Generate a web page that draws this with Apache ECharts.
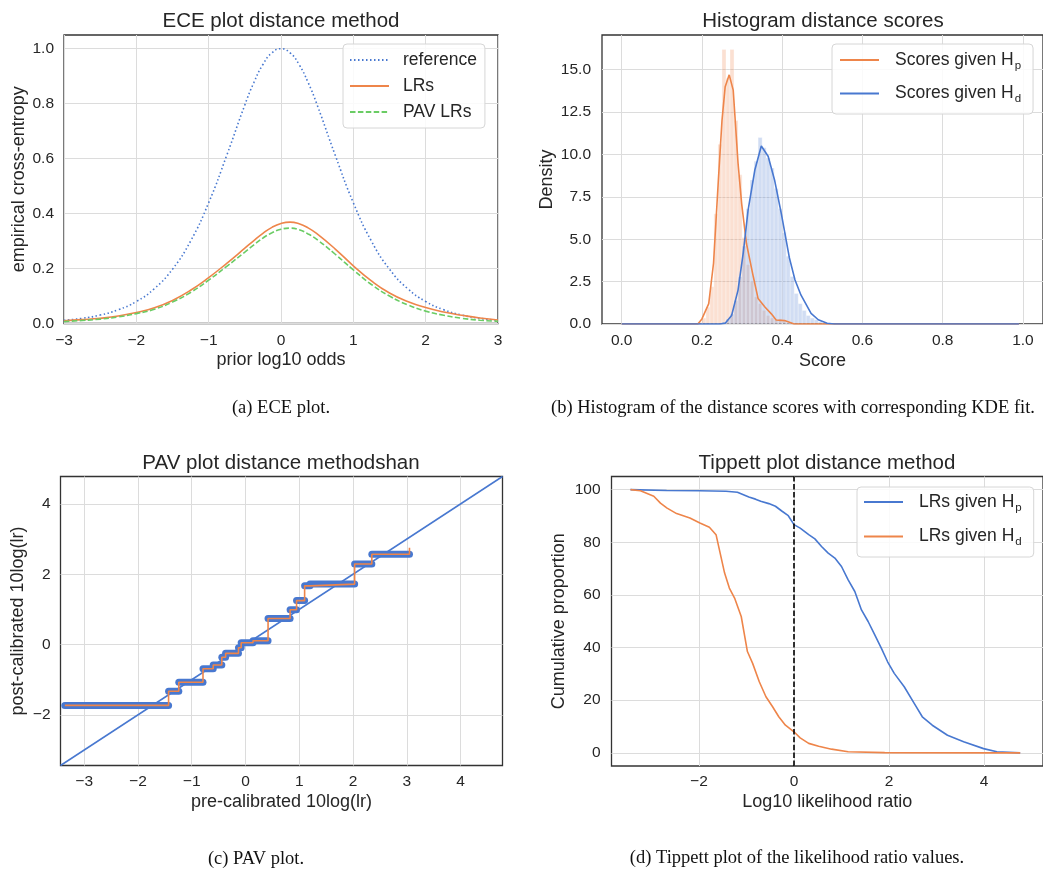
<!DOCTYPE html>
<html>
<head>
<meta charset="utf-8">
<script src="https://cdn.jsdelivr.net/npm/echarts@6/dist/echarts.min.js"></script>
<style>
  html, body { margin: 0; padding: 0; background: #ffffff; }
  #chart { width: 1043px; height: 871px; }
</style>
</head>
<body>
<div id="chart"></div>
<script>
// ---------- (a) ECE curves, sampled along the prior log10 odds ----------
const eceOdds = [-3, -2.75, -2.5, -2.25, -2, -1.75, -1.5, -1.25, -1, -0.75, -0.5, -0.375, -0.25, -0.125, 0,
                 0.125, 0.25, 0.375, 0.5, 0.75, 1, 1.25, 1.5, 1.75, 2, 2.25, 2.5, 2.75, 3];
const eceReference = [0.0114, 0.0188, 0.0307, 0.0499, 0.0801, 0.1270, 0.1977, 0.3000, 0.4395, 0.6121, 0.7955, 0.8771, 0.9426, 0.9853, 1.0,
                      0.9853, 0.9426, 0.8771, 0.7955, 0.6121, 0.4395, 0.3000, 0.1977, 0.1270, 0.0801, 0.0499, 0.0307, 0.0188, 0.0114];
const eceLRs = [0.010, 0.014, 0.019, 0.027, 0.040, 0.057, 0.084, 0.121, 0.167, 0.219, 0.274, 0.302, 0.328, 0.350, 0.364,
                0.369, 0.363, 0.348, 0.326, 0.271, 0.210, 0.155, 0.111, 0.080, 0.058, 0.042, 0.030, 0.020, 0.013];
const ecePAV = [0.007, 0.011, 0.016, 0.024, 0.036, 0.052, 0.078, 0.113, 0.158, 0.208, 0.260, 0.286, 0.311, 0.330, 0.343,
                0.347, 0.341, 0.326, 0.305, 0.252, 0.195, 0.142, 0.100, 0.068, 0.045, 0.030, 0.019, 0.012, 0.008];

// ---------- (b) score histograms (density per bin) and KDE fits ----------
const binWidth = 0.01;
const hpBinCenters = [0.195, 0.205, 0.215, 0.225, 0.235, 0.245, 0.255, 0.265, 0.275, 0.285, 0.295, 0.305,
                      0.315, 0.325, 0.335, 0.345, 0.355, 0.365, 0.375, 0.385, 0.395, 0.405, 0.415];
const hpDensity = [0.1, 0.35, 1.0, 2.2, 6.5, 10.6, 16.2, 14.5, 16.2, 12.0, 8.8, 5.1,
                   3.5, 2.5, 1.6, 1.2, 0.8, 0.5, 0.35, 0.25, 0.3, 0.15, 0.05];
const hdBinCenters = [0.255, 0.265, 0.275, 0.285, 0.295, 0.305, 0.315, 0.325, 0.335, 0.345, 0.355, 0.365, 0.375,
                      0.385, 0.395, 0.405, 0.415, 0.425, 0.435, 0.445, 0.455, 0.465, 0.475, 0.485, 0.495, 0.505];
const hdDensity = [0.1, 0.3, 0.6, 1.4, 2.8, 4.6, 6.8, 8.5, 9.6, 11.0, 10.4, 9.8, 9.2,
                   8.0, 6.8, 5.4, 4.0, 2.8, 1.8, 1.2, 0.8, 0.5, 0.35, 0.25, 0.12, 0.05];
const hpKdeScore = [0, 0.19, 0.2, 0.217, 0.229, 0.241, 0.25, 0.258, 0.268, 0.278, 0.29, 0.299, 0.311,
                    0.328, 0.34, 0.357, 0.373, 0.385, 0.406, 0.43, 0.99];
const hpKdeDensity = [0, 0, 0.3, 1.2, 3.6, 8.5, 12.0, 14.0, 14.7, 13.8, 9.5, 7.1, 4.75,
                      2.8, 1.5, 1.0, 0.6, 0.24, 0.2, 0, 0];
const hdKdeScore = [0, 0.245, 0.258, 0.274, 0.29, 0.303, 0.315, 0.332, 0.348, 0.365, 0.381, 0.398, 0.418,
                    0.432, 0.447, 0.472, 0.49, 0.512, 0.53, 0.99];
const hdKdeDensity = [0, 0, 0.05, 0.5, 2.0, 4.2, 6.7, 9.1, 10.5, 9.9, 8.5, 6.5, 3.9,
                      2.6, 1.7, 0.63, 0.25, 0.04, 0, 0];

// ---------- (c) PAV transform: constant steps of the calibrated log LR ----------
const pavStepStart = [-3.36, -1.43, -1.24, -0.79, -0.60, -0.44, -0.37, -0.13, -0.08, 0.14, 0.42, 0.83, 0.95, 1.10, 1.20, 2.03, 2.35];
const pavStepEnd   = [-1.43, -1.24, -0.79, -0.60, -0.44, -0.37, -0.13, -0.08, 0.14, 0.42, 0.83, 0.95, 1.10, 1.20, 2.03, 2.35, 3.05];
const pavLevel     = [-1.73, -1.33, -1.07, -0.69, -0.58, -0.36, -0.25, -0.09, 0.05, 0.11, 0.74, 0.99, 1.25, 1.67, 1.72, 2.29, 2.57];
const pavLastLevel = 2.75;
const pavLimits = [-3.44, 4.78];

// ---------- (d) Tippett curves (percentage of LRs above a threshold) ----------
const tippettHpLog10 = [-3.44, -2.68, -1.99, -1.43, -1.19, -0.95, -0.81, -0.70, -0.53, -0.39, -0.25, -0.12, 0,
                        0.13, 0.31, 0.44, 0.58, 0.72, 0.86, 1.0, 1.14, 1.28, 1.42, 1.56, 1.7, 1.84, 1.97,
                        2.11, 2.32, 2.53, 2.70, 2.91, 3.23, 3.57, 3.99, 4.27, 4.76];
const tippettHpPct = [100, 99.7, 99.6, 99.4, 99.0, 97.2, 96.4, 95.6, 94.7, 93.7, 91.8, 90.1, 86.7,
                      85.4, 82.9, 81.3, 78.4, 75.9, 74.0, 70.8, 65.7, 61.3, 54.3, 49.9, 44.8, 39.7, 34.6,
                      30.2, 25.1, 18.8, 13.7, 10.5, 6.7, 4.2, 1.6, 0.4, 0];
const tippettHdLog10 = [-3.44, -3.23, -2.95, -2.81, -2.67, -2.47, -2.19, -1.98, -1.78, -1.64, -1.57, -1.46, -1.36,
                        -1.25, -1.11, -0.98, -0.87, -0.73, -0.59, -0.45, -0.32, -0.18, 0, 0.13, 0.31, 0.52,
                        0.79, 1.14, 1.91, 4.76];
const tippettHdPct = [100, 99.6, 97.5, 94.9, 93.0, 90.9, 89.2, 87.3, 85.7, 82.9, 77.2, 68.3, 62.6,
                      58.8, 51.8, 38.5, 34.0, 27.0, 21.3, 17.5, 13.7, 10.5, 8.0, 5.7, 3.6, 2.5,
                      1.4, 0.4, 0.1, 0];
const neutralLog10LR = 0;

// ---------- tick values ----------
const eceXTicks = [-3, -2, -1, 0, 1, 2, 3];
const eceYTicks = [0, 0.2, 0.4, 0.6, 0.8, 1.0];
const histXTicks = [0, 0.2, 0.4, 0.6, 0.8, 1.0];
const histYTicks = [0, 2.5, 5, 7.5, 10, 12.5, 15];
const pavXTicks = [-3, -2, -1, 0, 1, 2, 3, 4];
const pavYTicks = [-2, 0, 2, 4];
const tippettXTicks = [-2, 0, 2, 4];
const tippettYTicks = [0, 20, 40, 60, 80, 100];

// ---------- styling ----------
const SANS = '"Liberation Sans", Arial, sans-serif';
const SERIF = '"Liberation Serif", "Times New Roman", serif';
const INK = '#262626';
const BLUE = '#4878d0', ORANGE = '#ee854a', GREEN = '#6acc64';
const DOTTED = [1.5, 2.5], DASHED = [5.5, 2.4];

const zip = (xs, ys) => xs.map((x, i) => [x, ys[i]]);
const signed = v => String(v).replace('-', '\u2212');

function axis(gridIndex, opts) {
  return {
    type: 'value',
    gridIndex: gridIndex,
    min: opts.min,
    max: opts.max,
    name: opts.name,
    nameLocation: 'middle',
    nameGap: opts.nameGap,
    nameTextStyle: { color: INK, fontSize: 18, fontFamily: SANS },
    axisLine: { show: false },
    axisTick: { show: false, customValues: opts.ticks },
    splitLine: { show: true, lineStyle: { color: '#dcdcdc', width: 1 } },
    axisLabel: {
      customValues: opts.ticks,
      color: INK, fontSize: 15.5, fontFamily: SANS,
      margin: opts.margin,
      formatter: opts.fmt
    }
  };
}

function grid(left, top, width, height) {
  return { left, top, width, height, show: true, borderColor: '#333333', borderWidth: 1.3, backgroundColor: 'transparent' };
}

// line-only legend keys: the marker of each key is hidden, its line keeps the series style
function legendBox(names, left, top, extra) {
  return Object.assign({
    data: names, orient: 'vertical', left, top,
    itemWidth: 39, itemHeight: 14,
    itemStyle: { opacity: 0 },
    backgroundColor: 'rgba(255,255,255,0.85)',
    borderColor: '#d6d6d6', borderWidth: 1, borderRadius: 4,
    selectedMode: false
  }, extra);
}

const subscriptRich = {
  h: { fontSize: 17.5, fontFamily: SANS, color: INK },
  s: { fontSize: 11.5, fontFamily: SANS, color: INK, padding: [11, 0, 0, 1] }
};
const withSubscript = name => name.replace(/H_(\w)$/, '{h|H}{s|$1}');

function histogramSeries(name, centers, density, color, gridIdx) {
  return {
    name, type: 'custom', xAxisIndex: gridIdx, yAxisIndex: gridIdx, z: 1,
    data: zip(centers, density),
    renderItem: function (params, api) {
      const c = api.value(0), h = api.value(1);
      const p0 = api.coord([c - binWidth / 2, h]);
      const p1 = api.coord([c + binWidth / 2, 0]);
      return {
        type: 'rect',
        shape: { x: p0[0], y: p0[1], width: p1[0] - p0[0], height: p1[1] - p0[1] },
        style: { fill: color, stroke: 'rgba(255,255,255,0.55)', lineWidth: 0.6 }
      };
    }
  };
}

// PAV orange step path: each constant step, then the final up-tick
const pavPath = [];
pavStepStart.forEach((x0, i) => { pavPath.push([x0, pavLevel[i]]); pavPath.push([pavStepEnd[i], pavLevel[i]]); });
pavPath.push([pavStepEnd[pavStepEnd.length - 1], pavLastLevel]);

const option = {
  animation: false,
  backgroundColor: '#ffffff',
  grid: [
    grid(64, 35, 434, 288.5),
    grid(602, 35, 445, 289),
    grid(60.5, 476.5, 442, 289),
    grid(611.5, 476.5, 435, 289.5)
  ],
  xAxis: [
    axis(0, { min: -3, max: 3, ticks: eceXTicks, name: 'prior log10 odds', nameGap: 28, margin: 9, fmt: v => signed(v) }),
    axis(1, { min: -0.049, max: 1.05, ticks: histXTicks, name: 'Score', nameGap: 28, margin: 9, fmt: v => v.toFixed(1) }),
    axis(2, { min: pavLimits[0], max: pavLimits[1], ticks: pavXTicks, name: 'pre-calibrated 10log(lr)', nameGap: 28, margin: 8, fmt: v => signed(v) }),
    axis(3, { min: -3.84, max: 5.24, ticks: tippettXTicks, name: 'Log10 likelihood ratio', nameGap: 27, margin: 8, fmt: v => signed(v) })
  ],
  yAxis: [
    axis(0, { min: 0, max: 1.05, ticks: eceYTicks, name: 'empirical cross-entropy', nameGap: 36, margin: 10, fmt: v => v.toFixed(1) }),
    axis(1, { min: 0, max: 17.05, ticks: histYTicks, name: 'Density', nameGap: 46, margin: 11, fmt: v => v.toFixed(1) }),
    axis(2, { min: pavLimits[0], max: pavLimits[1], ticks: pavYTicks, name: 'post-calibrated 10log(lr)', nameGap: 33, margin: 10, fmt: v => signed(v) }),
    axis(3, { min: -5, max: 105, ticks: tippettYTicks, name: 'Cumulative proportion', nameGap: 43, margin: 11, fmt: v => String(v) })
  ],
  legend: [
    legendBox(['reference', 'LRs', 'PAV LRs'], 343, 44, {
      itemGap: 6, padding: [6, 8, 6, 6],
      textStyle: { color: INK, fontSize: 17.5, fontFamily: SANS, lineHeight: 20, padding: [0, 0, 0, 9] }
    }),
    legendBox(['Scores given H_p', 'Scores given H_d'], 832, 44, {
      itemGap: 13, padding: [7, 12, 9, 7],
      formatter: withSubscript,
      textStyle: { color: INK, fontSize: 17.5, fontFamily: SANS, padding: [0, 0, 0, 11], rich: subscriptRich }
    }),
    legendBox(['LRs given H_p', 'LRs given H_d'], 857, 487, {
      itemGap: 14, padding: [6, 12, 9, 6],
      formatter: withSubscript,
      textStyle: { color: INK, fontSize: 17.5, fontFamily: SANS, padding: [0, 0, 0, 11], rich: subscriptRich }
    })
  ],
  graphic: [
    { type: 'text', x: 281, y: 21, style: { text: 'ECE plot distance method', textAlign: 'center', textVerticalAlign: 'middle', font: '20.5px ' + SANS, fill: INK } },
    { type: 'text', x: 823, y: 21, style: { text: 'Histogram distance scores', textAlign: 'center', textVerticalAlign: 'middle', font: '20.5px ' + SANS, fill: INK } },
    { type: 'text', x: 281, y: 463, style: { text: 'PAV plot distance methodshan', textAlign: 'center', textVerticalAlign: 'middle', font: '20.5px ' + SANS, fill: INK } },
    { type: 'text', x: 827, y: 463, style: { text: 'Tippett plot distance method', textAlign: 'center', textVerticalAlign: 'middle', font: '20.5px ' + SANS, fill: INK } },
    { type: 'text', x: 281, y: 408, style: { text: '(a) ECE plot.', textAlign: 'center', textVerticalAlign: 'middle', font: '18.5px ' + SERIF, fill: '#111' } },
    { type: 'text', x: 551, y: 408, style: { text: '(b) Histogram of the distance scores with corresponding KDE fit.', textAlign: 'left', textVerticalAlign: 'middle', font: '18.5px ' + SERIF, fill: '#111' } },
    { type: 'text', x: 256, y: 859, style: { text: '(c) PAV plot.', textAlign: 'center', textVerticalAlign: 'middle', font: '18.5px ' + SERIF, fill: '#111' } },
    { type: 'text', x: 797, y: 858, style: { text: '(d) Tippett plot of the likelihood ratio values.', textAlign: 'center', textVerticalAlign: 'middle', font: '18.5px ' + SERIF, fill: '#111' } }
  ],
  series: [
    // (a) ECE plot
    { name: 'reference', type: 'line', xAxisIndex: 0, yAxisIndex: 0, smooth: true, symbol: 'none',
      data: zip(eceOdds, eceReference), itemStyle: { color: BLUE },
      lineStyle: { color: BLUE, width: 1.6, type: DOTTED } },
    { name: 'LRs', type: 'line', xAxisIndex: 0, yAxisIndex: 0, smooth: true, symbol: 'none',
      data: zip(eceOdds, eceLRs), itemStyle: { color: ORANGE },
      lineStyle: { color: ORANGE, width: 1.6 } },
    { name: 'PAV LRs', type: 'line', xAxisIndex: 0, yAxisIndex: 0, smooth: true, symbol: 'none',
      data: zip(eceOdds, ecePAV), itemStyle: { color: GREEN },
      lineStyle: { color: GREEN, width: 1.6, type: DASHED } },

    // (b) histograms with KDE fits
    histogramSeries('Hp histogram', hpBinCenters, hpDensity, 'rgba(238,133,74,0.25)', 1),
    histogramSeries('Hd histogram', hdBinCenters, hdDensity, 'rgba(72,120,208,0.25)', 1),
    { name: 'Scores given H_p', type: 'line', xAxisIndex: 1, yAxisIndex: 1, symbol: 'none', z: 3,
      data: zip(hpKdeScore, hpKdeDensity), itemStyle: { color: ORANGE },
      lineStyle: { color: ORANGE, width: 1.6 } },
    { name: 'Scores given H_d', type: 'line', xAxisIndex: 1, yAxisIndex: 1, symbol: 'none', z: 3,
      data: zip(hdKdeScore, hdKdeDensity), itemStyle: { color: BLUE },
      lineStyle: { color: BLUE, width: 1.6 } },

    // (c) PAV plot: identity line, calibrated points, step function
    { name: 'identity', type: 'line', xAxisIndex: 2, yAxisIndex: 2, symbol: 'none', z: 1,
      data: [[pavLimits[0], pavLimits[0]], [pavLimits[1], pavLimits[1]]],
      lineStyle: { color: BLUE, width: 1.5 } },
    { name: 'calibrated', type: 'custom', xAxisIndex: 2, yAxisIndex: 2, z: 2,
      data: pavStepStart.map((x0, i) => [x0, pavStepEnd[i], pavLevel[i]]),
      renderItem: function (params, api) {
        const a = api.coord([api.value(0), api.value(2)]);
        const b = api.coord([api.value(1), api.value(2)]);
        return {
          type: 'line',
          shape: { x1: a[0], y1: a[1], x2: b[0], y2: b[1] },
          style: { stroke: BLUE, lineWidth: 7, lineCap: 'round' }
        };
      } },
    { name: 'PAV', type: 'line', xAxisIndex: 2, yAxisIndex: 2, symbol: 'none', z: 3,
      data: pavPath, lineStyle: { color: ORANGE, width: 1.6 } },

    // (d) Tippett plot
    { name: 'LRs given H_p', type: 'line', xAxisIndex: 3, yAxisIndex: 3, symbol: 'none',
      data: zip(tippettHpLog10, tippettHpPct), itemStyle: { color: BLUE },
      lineStyle: { color: BLUE, width: 1.6 },
      markLine: { silent: true, symbol: 'none', label: { show: false },
        lineStyle: { color: '#000000', width: 1.6, type: DASHED },
        data: [{ xAxis: neutralLog10LR }] } },
    { name: 'LRs given H_d', type: 'line', xAxisIndex: 3, yAxisIndex: 3, symbol: 'none',
      data: zip(tippettHdLog10, tippettHdPct), itemStyle: { color: ORANGE },
      lineStyle: { color: ORANGE, width: 1.6 } }
  ]
};

const chart = echarts.init(document.getElementById('chart'), null, { renderer: 'canvas' });
chart.setOption(option);
</script>
</body>
</html>
